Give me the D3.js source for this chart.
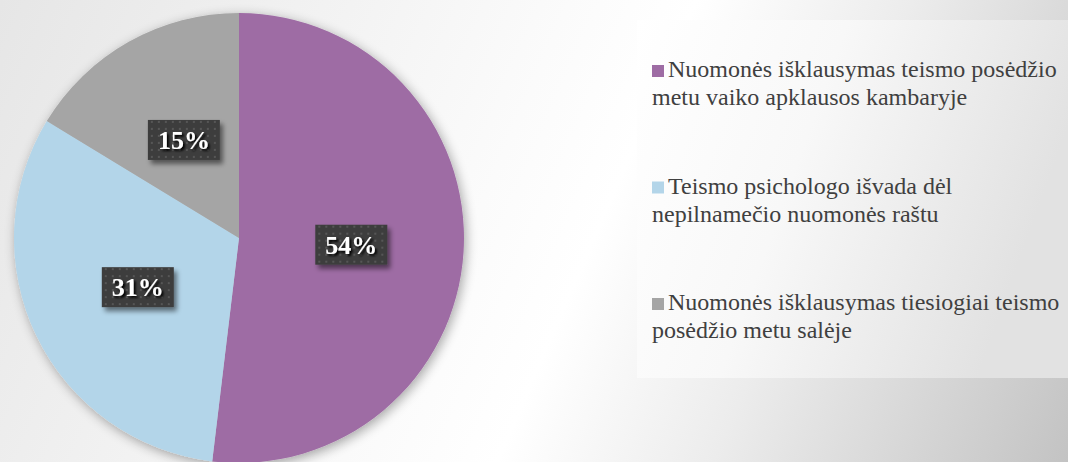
<!DOCTYPE html>
<html>
<head>
<meta charset="utf-8">
<script src="https://cdn.jsdelivr.net/npm/d3@7"></script>
<style>
  html, body { margin: 0; padding: 0; background: #fff; }
  svg { display: block; }
  .serif { font-family: "Liberation Serif", "Times New Roman", Times, serif; }
</style>
</head>
<body>
<svg id="chart" width="1068" height="462"></svg>
<script>
// ---- data ----
const categories = [
  "Nuomonės išklausymas teismo posėdžio\nmetu vaiko apklausos kambaryje",
  "Teismo psichologo išvada dėl\nnepilnamečio nuomonės raštu",
  "Nuomonės išklausymas tiesiogiai teismo\nposėdžio metu salėje"
];
// slice sizes as drawn in the picture (shares of the circle)
const sliceValues = [51.9, 31.8, 16.3];
// label texts shown on the slices
const sliceLabels = ["54%", "31%", "15%"];
const colors = ["#9e6ca4", "#b3d5e9", "#a5a5a5"];

// ---- layout ----
const W = 1068, H = 462;
const cx = 239, cy = 238, R = 225;
const svg = d3.select("#chart");
const defs = svg.append("defs");

// background gradient
const bg = defs.append("linearGradient").attr("id", "bgGrad")
  .attr("gradientUnits", "userSpaceOnUse")
  .attr("x1", 0).attr("y1", 0).attr("x2", W).attr("y2", H);
[[0, "#e6e6e6"], [0.45, "#fbfbfb"], [0.55, "#ffffff"], [0.72, "#ececec"], [1, "#c3c3c3"]]
  .forEach(([o, c]) => bg.append("stop").attr("offset", o).attr("stop-color", c));
svg.append("rect").attr("width", W).attr("height", H).attr("fill", "url(#bgGrad)");

// legend box gradient
const lg = defs.append("linearGradient").attr("id", "legGrad")
  .attr("x1", 0).attr("y1", 0).attr("x2", 1).attr("y2", 0.3);
[[0, "#ffffff"], [0.45, "#f8f8f8"], [1, "#e2e2e2"]]
  .forEach(([o, c]) => lg.append("stop").attr("offset", o).attr("stop-color", c));

// pie shadow
const sh = defs.append("filter").attr("id", "pieShadow")
  .attr("x", "-20%").attr("y", "-20%").attr("width", "140%").attr("height", "140%");
sh.append("feGaussianBlur").attr("in", "SourceAlpha").attr("stdDeviation", 6).attr("result", "b");
sh.append("feOffset").attr("in", "b").attr("dx", 2).attr("dy", 3).attr("result", "o");
sh.append("feComponentTransfer").attr("in", "o").attr("result", "s")
  .append("feFuncA").attr("type", "linear").attr("slope", 0.35);
const shm = sh.append("feMerge");
shm.append("feMergeNode").attr("in", "s");
shm.append("feMergeNode").attr("in", "SourceGraphic");

// label box shadow
const bs = defs.append("filter").attr("id", "boxShadow")
  .attr("x", "-30%").attr("y", "-30%").attr("width", "160%").attr("height", "170%");
bs.append("feGaussianBlur").attr("in", "SourceAlpha").attr("stdDeviation", 2.5).attr("result", "b");
bs.append("feOffset").attr("in", "b").attr("dx", 3).attr("dy", 4).attr("result", "o");
bs.append("feComponentTransfer").attr("in", "o").attr("result", "s")
  .append("feFuncA").attr("type", "linear").attr("slope", 0.5);
const bsm = bs.append("feMerge");
bsm.append("feMergeNode").attr("in", "s");
bsm.append("feMergeNode").attr("in", "SourceGraphic");

// text shadow
const ts = defs.append("filter").attr("id", "txtShadow")
  .attr("x", "-20%").attr("y", "-20%").attr("width", "140%").attr("height", "140%");
ts.append("feGaussianBlur").attr("in", "SourceAlpha").attr("stdDeviation", 1).attr("result", "b");
ts.append("feOffset").attr("in", "b").attr("dx", 1.5).attr("dy", 1.5).attr("result", "o");
const tsm = ts.append("feMerge");
tsm.append("feMergeNode").attr("in", "o");
tsm.append("feMergeNode").attr("in", "SourceGraphic");

// dotted pattern for label boxes
const pat = defs.append("pattern").attr("id", "dots")
  .attr("patternUnits", "userSpaceOnUse").attr("width", 7).attr("height", 7);
pat.append("rect").attr("width", 7).attr("height", 7).attr("fill", "#3d3d3d");
pat.append("rect").attr("x", 2).attr("y", 2).attr("width", 2).attr("height", 2).attr("fill", "#565656");

// ---- legend box ----
svg.append("rect").attr("x", 637).attr("y", 20).attr("width", W - 637).attr("height", 358)
  .attr("fill", "url(#legGrad)");

// ---- pie ----
const pie = d3.pie().sort(null).value(d => d).startAngle(0).endAngle(2 * Math.PI);
const arcs = pie(sliceValues);
const arc = d3.arc().innerRadius(0).outerRadius(R);
const labelArc = d3.arc().innerRadius(R * 0.5).outerRadius(R * 0.5);

const g = svg.append("g").attr("transform", `translate(${cx},${cy})`);
g.append("g").attr("filter", "url(#pieShadow)")
  .selectAll("path").data(arcs).join("path")
  .attr("d", arc)
  .attr("fill", (d, i) => colors[i]);

const lbl = g.selectAll("g.lbl").data(arcs).join("g").attr("class", "lbl")
  .attr("transform", d => `translate(${labelArc.centroid(d)})`);
const bw = 72, bh = 40;
lbl.append("rect")
  .attr("x", -bw / 2).attr("y", -bh / 2).attr("width", bw).attr("height", bh)
  .attr("fill", "url(#dots)")
  .attr("filter", "url(#boxShadow)");
lbl.append("text")
  .attr("class", "serif")
  .attr("text-anchor", "middle")
  .attr("dy", "0.34em")
  .style("font-weight", "bold")
  .style("font-size", "26px")
  .attr("fill", "#ffffff")
  .attr("filter", "url(#txtShadow)")
  .text((d, i) => sliceLabels[i]);

// ---- legend ----
const legY0 = 77, legStep = 116.5, lineH = 28;
const leg = svg.append("g").selectAll("g").data(categories).join("g")
  .attr("transform", (d, i) => `translate(652,${legY0 + i * legStep})`);
leg.append("rect").attr("x", 0).attr("y", -12).attr("width", 12).attr("height", 12)
  .attr("fill", (d, i) => colors[i]);
leg.each(function (d) {
  const lines = d.split("\n");
  const t = d3.select(this).append("text")
    .attr("class", "serif")
    .style("font-size", "24px")
    .attr("fill", "#404040");
  lines.forEach((ln, j) => {
    t.append("tspan").attr("x", j === 0 ? 16 : 0).attr("y", j * lineH).text(ln);
  });
});
</script>
</body>
</html>
